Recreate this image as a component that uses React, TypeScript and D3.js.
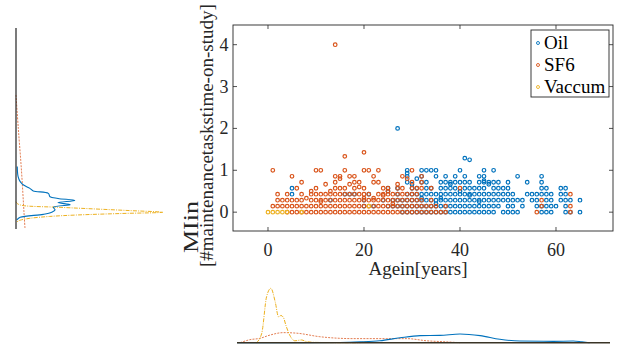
import React from 'react';
import * as d3 from 'd3';

const seriesNames = ['Oil', 'SF6', 'Vaccum'];
const seriesColors = ['#0072BD', '#D95319', '#EDB120'];
const xTicks = [0, 20, 40, 60];
const yTicks = [0, 1, 2, 3, 4];

// [MI value, ages at that value]
const oilRows: [number, number[]][] = [
  [0, [28, 29, 30, 31, 32, 33, 34, 35, 36, 37, 38, 39, 40, 41, 42, 43, 44, 45, 46, 47, 49, 50, 51, 52, 57, 58, 59, 62, 63, 65]],
  [0.143, [20, 22, 25, 26, 27, 28, 29, 30, 31, 32, 33, 34, 35, 36, 37, 38, 39, 40, 41, 42, 43, 44, 45, 46, 47, 48, 50, 51, 53, 56, 57, 58, 59, 60, 62]],
  [0.286, [13, 20, 24, 26, 27, 28, 29, 30, 31, 32, 33, 34, 35, 36, 37, 38, 39, 40, 41, 42, 43, 44, 45, 46, 47, 48, 49, 50, 51, 52, 53, 55, 56, 58, 59, 61, 62, 63, 65]],
  [0.429, [5, 16, 17, 18, 21, 27, 29, 30, 31, 32, 33, 34, 35, 36, 37, 38, 39, 40, 41, 42, 43, 44, 45, 46, 47, 48, 49, 50, 51, 54, 55, 56, 57, 58, 59, 61, 62]],
  [0.571, [5, 25, 27, 30, 31, 33, 34, 36, 37, 38, 39, 41, 42, 43, 44, 45, 47, 48, 49, 50, 57, 58, 61, 62]],
  [0.714, [29, 32, 33, 36, 37, 38, 39, 40, 41, 42, 44, 45, 46, 47, 48, 50, 54, 57]],
  [0.857, [29, 32, 35, 37, 39, 41, 44, 45, 52, 57]],
  [1, [29, 32, 33, 34, 35, 40, 45, 47]],
];
const oilExtra: [number, number][] = [
  [27, 2.0], [41, 1.29], [42, 1.25], [29, 0.93], [30, 0.667], [46, 0.667], [45, 0.75], [32, 0.333],
  [35, 0.2], [40, 0.5], [44, 0.25], [31, 0.8], [38, 0.667], [36, 0.333], [25, 0.5], [42, 0.4],
];

const sf6Rows: [number, number[]][] = [
  [0, [4, 5, 6, 7, 8, 9, 10, 11, 12, 13, 14, 15, 16, 17, 18, 19, 20, 21, 22, 23, 24, 25, 26, 27, 28, 29, 30, 31, 32, 33, 34, 35, 36, 37, 56, 63]],
  [0.143, [1, 2, 3, 4, 5, 6, 7, 8, 9, 10, 11, 12, 13, 14, 15, 16, 17, 18, 19, 20, 21, 22, 23, 24, 25, 26, 27, 28, 29, 30, 31, 32, 33, 34, 35, 37, 57, 63]],
  [0.286, [2, 3, 4, 5, 6, 7, 9, 10, 11, 12, 13, 14, 15, 16, 17, 18, 19, 20, 21, 22, 23, 24, 25, 26, 27, 28, 29, 30, 31, 32, 34, 57]],
  [0.429, [2, 4, 7, 9, 10, 11, 12, 13, 14, 15, 16, 17, 18, 19, 20, 21, 23, 24, 25, 26, 27, 28, 29, 30, 31, 63]],
  [0.571, [6, 10, 14, 15, 16, 18, 20, 24, 25, 27, 28, 30, 31, 32, 34, 40]],
  [0.714, [7, 14, 18, 19, 22, 23, 30, 32]],
  [0.857, [5, 14, 15, 17, 18, 22, 28, 32]],
  [1, [1, 10, 11, 16, 20, 21, 23, 30]],
];
const sf6Extra: [number, number][] = [
  [16, 1.333], [20, 1.429], [14, 4.0], [15, 0.8], [17, 0.667], [19, 0.6], [13, 0.5], [8, 0.333], [11, 0.25],
  [20, 0.333], [25, 0.5], [26, 0.2], [24, 0.4], [29, 0.8], [12, 0.667], [22, 0.333], [27, 0.667], [9, 0.5],
];

const vacPoints: [number, number][] = [[0, 0], [1, 0], [2, 0], [3, 0], [4, 0], [7, 0], [21, 0.143]];

// marginal densities
// left: [MI value, density]
const leftOil: [number, number][] = [
  [1.09, 0.03], [0.85, 0.05], [0.73, 0.1], [0.65, 0.18], [0.57, 0.33], [0.51, 0.41], [0.45, 0.77], [0.37, 0.81],
  [0.33, 1.0], [0.28, 1.4], [0.23, 1.0], [0.18, 1.29], [0.12, 0.89], [0.055, 0.93], [0.0, 0.85], [-0.05, 0.65],
  [-0.12, 0.1], [-0.18, 0.02],
];
const leftSF6: [number, number][] = [[2.8, 0], [2.0, 0.055], [1.0, 0.13], [0, 0.19], [-0.4, 0.215]];
const leftVac: [number, number][] = [
  [0.25, 0.0], [0.2, 0.04], [0.16, 0.17], [0.12, 1.0], [0.08, 1.85], [0.04, 2.7], [0, 3.5], [-0.03, 2.5],
  [-0.066, 1.44], [-0.1, 0.8], [-0.145, 0.33], [-0.19, 0.1], [-0.23, 0.02],
];
// bottom: [age, density]
const bottomOil: [number, number][] = [
  [-6.4, 0], [15, 0.001], [19.2, 0.003], [23.3, 0.007], [27.5, 0.018], [31.7, 0.026], [35.8, 0.027], [40, 0.032],
  [44.2, 0.026], [48.3, 0.0125], [52.5, 0.006], [59.4, 0.005], [63.6, 0.006], [65.4, 0.003], [67, 0],
];
const bottomSF6: [number, number][] = [
  [-5.8, 0], [-3.8, 0.011], [-1.7, 0.016], [0.4, 0.028], [3.2, 0.037], [6, 0.035], [10.8, 0.022], [17.8, 0.015],
  [24.7, 0.015], [28.9, 0.015], [33.1, 0.007], [37.2, 0.003], [40, 0],
];
const bottomVac: [number, number][] = [
  [-2.4, 0], [-1.3, 0.035], [-0.3, 0.169], [0.6, 0.2], [1.5, 0.15], [2.2, 0.095], [2.7, 0.1], [3.2, 0.093],
  [3.8, 0.06], [4.7, 0.022], [5.6, 0.007], [7, 0.01], [8, 0.004], [10, 0.001], [19, 0], [20.6, 0.004], [22, 0],
];

const toPoints = (rows: [number, number[]][], extra: [number, number][]): [number, number][] => [
  ...rows.flatMap(([v, ages]) => ages.map((a) => [a, v] as [number, number])),
  ...extra,
];

const FONT = "'Liberation Serif', 'Times New Roman', 'DejaVu Serif', serif";
const TXT = '#262626';
const tStyle = { fontFamily: FONT };

export default function App() {
  const x = d3.scaleLinear().domain([-7.29, 71.875]).range([233, 613]);
  const y = d3.scaleLinear().domain([-0.45, 4.47]).range([231, 25]);

  const series = [toPoints(oilRows, oilExtra), toPoints(sf6Rows, sf6Extra), vacPoints];

  // left marginal
  const ly = d3.scaleLinear().domain([-0.4, 4.4]).range([229, 28]);
  const lx = d3.scaleLinear().domain([0, 4]).range([16, 184]);
  const leftLine = d3
    .line<[number, number]>()
    .x((d) => lx(d[1]))
    .y((d) => ly(d[0]))
    .curve(d3.curveCatmullRom.alpha(0.5));

  // bottom marginal
  const bx = d3.scaleLinear().domain([-6.46, 71.25]).range([237, 610]);
  const by = d3.scaleLinear().domain([0, 0.25]).range([342.7, 274.7]);
  const bottomLine = d3
    .line<[number, number]>()
    .x((d) => bx(d[0]))
    .y((d) => by(Math.max(0, d[1])))
    .curve(d3.curveMonotoneX);

  const leftDens = [leftOil, leftSF6, leftVac];
  const bottomDens = [bottomOil, bottomSF6, bottomVac];
  const dashes = ['', '2,1.2', '4,1.2,1,1.2'];
  const widths = [1.1, 1, 1];

  const [x0, x1] = x.range();
  const [yb, yt] = y.range();

  return (
    <svg width={623} height={349} style={{ position: 'absolute', left: 0, top: 0, background: '#fff' }}>
      <rect x={0} y={0} width={623} height={349} fill="#fff" />

      {/* left marginal */}
      <clipPath id="lclip">
        <rect x={0} y={ly(4.4)} width={200} height={ly(-0.4) - ly(4.4)} />
      </clipPath>
      <g clipPath="url(#lclip)">
        {[1, 2, 0].map((i) => (
          <path
            key={i}
            d={leftLine(leftDens[i]) || ''}
            fill="none"
            stroke={seriesColors[i]}
            strokeWidth={widths[i]}
            strokeDasharray={dashes[i]}
            opacity={i === 1 ? 0.75 : 1}
          />
        ))}
      </g>
      <line x1={16} x2={16} y1={ly(-0.4)} y2={ly(4.4)} stroke="#222" strokeWidth={1.2} />

      {/* bottom marginal */}
      {[1, 2, 0].map((i) => (
        <path
          key={i}
          d={bottomLine(bottomDens[i]) || ''}
          fill="none"
          stroke={seriesColors[i]}
          strokeWidth={widths[i]}
          strokeDasharray={dashes[i]}
          opacity={i === 1 ? 0.75 : 1}
        />
      ))}
      <line x1={bx.range()[0]} x2={bx.range()[1]} y1={by(0)} y2={by(0)} stroke="#3a3426" strokeWidth={1.4} />

      {/* main axes */}
      <rect x={x0} y={yt} width={x1 - x0} height={yb - yt} fill="#fff" />
      <clipPath id="mclip">
        <rect x={x0} y={yt} width={x1 - x0} height={yb - yt} />
      </clipPath>
      <g clipPath="url(#mclip)">
        {series.map((pts, si) => (
          <g key={si}>
            {pts.map((d, i) => (
              <circle
                key={i}
                cx={x(d[0])}
                cy={y(d[1])}
                r={1.8}
                fill="none"
                stroke={seriesColors[si]}
                strokeWidth={1.2}
              />
            ))}
          </g>
        ))}
      </g>
      <rect x={x0} y={yt} width={x1 - x0} height={yb - yt} fill="none" stroke={TXT} strokeWidth={0.9} />
      {xTicks.map((t) => (
        <g key={t}>
          <line x1={x(t)} x2={x(t)} y1={yb} y2={yb - 4} stroke={TXT} strokeWidth={0.8} />
          <line x1={x(t)} x2={x(t)} y1={yt} y2={yt + 4} stroke={TXT} strokeWidth={0.8} />
          <text x={x(t)} y={256} textAnchor="middle" fontSize={18} fill={TXT} style={tStyle}>
            {t}
          </text>
        </g>
      ))}
      {yTicks.map((t) => (
        <g key={t}>
          <line x1={x0} x2={x0 + 4} y1={y(t)} y2={y(t)} stroke={TXT} strokeWidth={0.8} />
          <line x1={x1} x2={x1 - 4} y1={y(t)} y2={y(t)} stroke={TXT} strokeWidth={0.8} />
          <text x={228.5} y={y(t) + 6} textAnchor="end" fontSize={18} fill={TXT} style={tStyle}>
            {t}
          </text>
        </g>
      ))}

      {/* axis labels */}
      <text x={418} y={275} textAnchor="middle" fontSize={19} fill={TXT} style={tStyle}>
        Agein[years]
      </text>
      <text transform="translate(198,253) rotate(-90)" textAnchor="start" fontSize={21} fill={TXT} style={tStyle} textLength={52} lengthAdjust="spacingAndGlyphs">
        MIin
      </text>
      <text transform="translate(213,267) rotate(-90)" textAnchor="start" fontSize={19} fill={TXT} style={tStyle}>
        [#maintenancetaskstime-on-study]
      </text>

      {/* legend */}
      <rect x={531} y={30} width={78} height={67} fill="#fff" stroke={TXT} strokeWidth={0.9} />
      {seriesNames.map((n, i) => (
        <g key={n}>
          <circle cx={538} cy={43 + i * 22} r={1.5} fill="none" stroke={seriesColors[i]} strokeWidth={0.9} />
          <text x={544} y={49 + i * 22} fontSize={19} fill="#000" style={tStyle}>
            {n}
          </text>
        </g>
      ))}
    </svg>
  );
}
